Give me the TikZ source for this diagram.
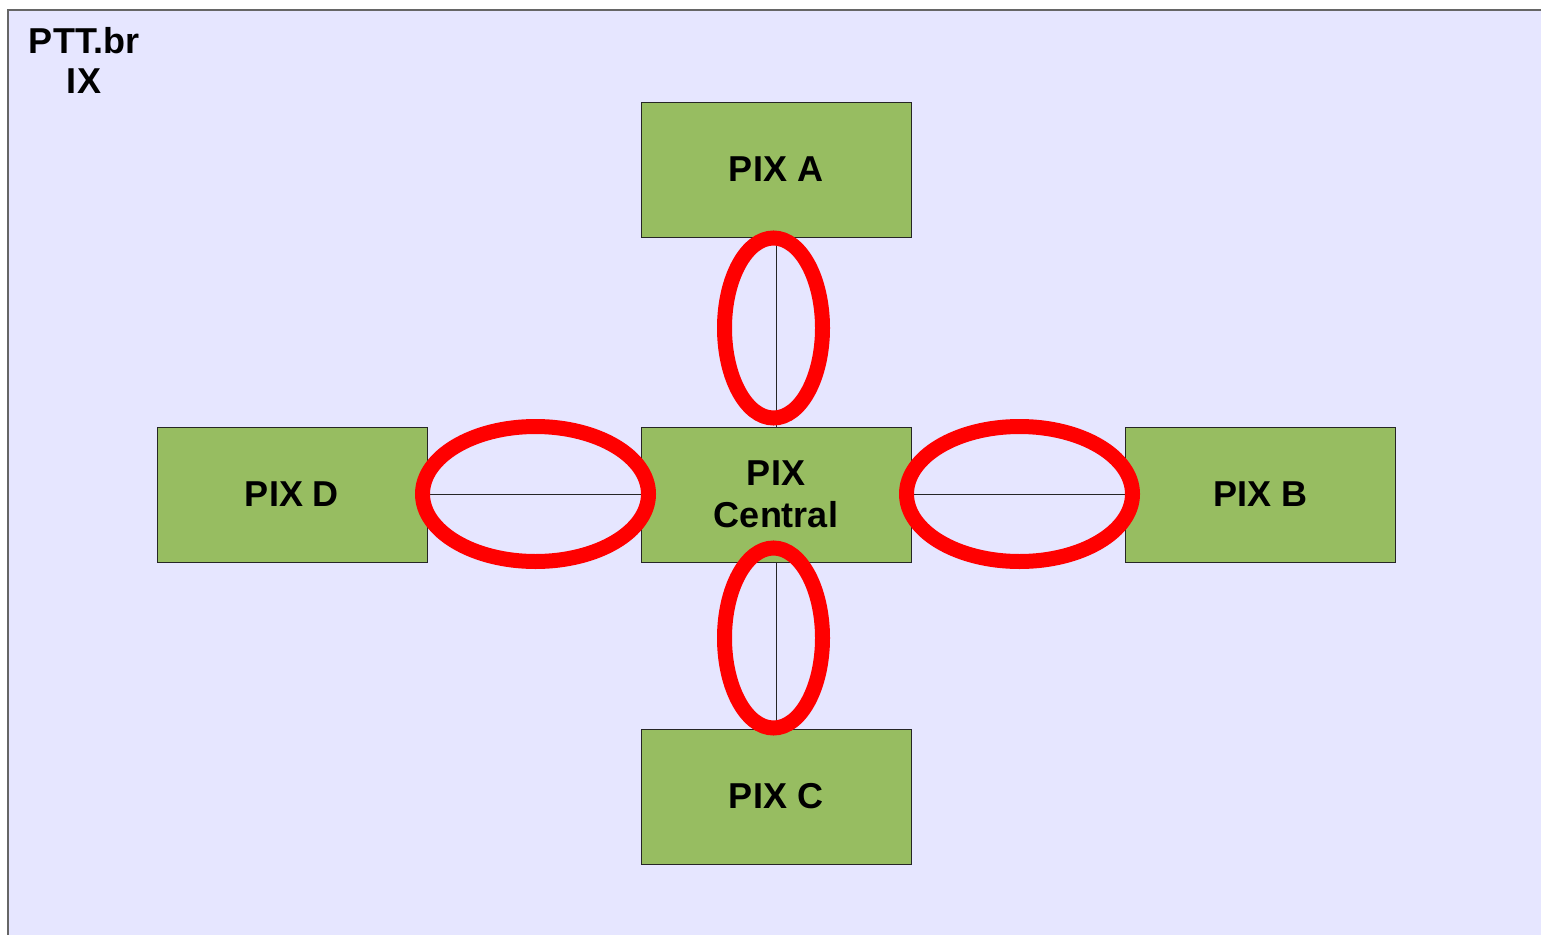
\documentclass[tikz,border=0pt]{standalone}
\usepackage{fontspec}
\setmainfont{Liberation Sans}
\begin{document}
\begin{tikzpicture}[x=1pt,y=-1pt,
  pixbox/.style={draw=black!85,line width=1pt,fill=pixgreen,minimum width=270pt,minimum height=135pt,inner sep=0pt,align=center,font=\fontsize{36}{42}\selectfont\bfseries},
  link/.style={draw=black!85,line width=1pt},
  ring/.style={draw=red,line width=15pt}]
\definecolor{pixgreen}{HTML}{97BD61}
\definecolor{lav}{HTML}{E6E6FF}
\useasboundingbox (0,0) rectangle (1541,934);
\fill[white] (0,0) rectangle (1541,934);
\draw[fill=lav,draw=black!60,line width=1.5pt] (8,10) rectangle (1560,960);
\node[font=\fontsize{36}{40}\selectfont\bfseries,align=center,anchor=north] (title) at (84,24) {PTT.br\\IX};
\node[pixbox] (a) at (776,169.5) {PIX A};
\node[pixbox] (c) at (776,494.5) {PIX\\Central};
\node[pixbox] (d) at (292,494.5) {PIX D};
\node[pixbox] (b) at (1260,494.5) {PIX B};
\node[pixbox] (cc) at (776,796.5) {PIX C};
\draw[link] (a.south) -- (c.north);
\draw[link] (c.south) -- (cc.north);
\draw[link] (d.east) -- (c.west);
\draw[link] (c.east) -- (b.west);
\draw[ring] (773.5,328) ellipse [x radius=49, y radius=90];
\draw[ring] (773.5,638) ellipse [x radius=49, y radius=90];
\draw[ring] (535.5,494) ellipse [x radius=113, y radius=67.5];
\draw[ring] (1019.5,494) ellipse [x radius=113, y radius=67.5];
\end{tikzpicture}
\end{document}
